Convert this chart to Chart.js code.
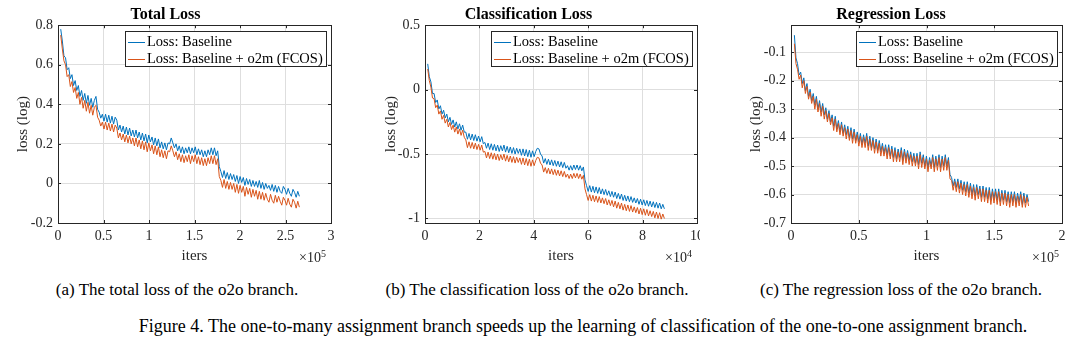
<!DOCTYPE html>
<html>
<head>
<meta charset="utf-8">
<script src="https://cdn.jsdelivr.net/npm/chart.js@4.4.1/dist/chart.umd.min.js"></script>
<style>
  body { margin: 0; background: #fff; width: 1080px; height: 349px; position: relative; overflow: hidden; font-family: 'Liberation Serif', serif; }
  canvas { position: absolute; top: 0; }
  .exp { position: absolute; top: 249px; font-size: 14px; color: #262626; line-height: 18px; }
  .exp sup { font-size: 10px; vertical-align: 5px; line-height: 0; }
  .sub { position: absolute; top: 280px; font-size: 17px; line-height: 20px; white-space: nowrap; transform: translateX(-50%); color: #000; }
  .fig { position: absolute; top: 316px; font-size: 18px; line-height: 20px; white-space: nowrap; transform: translateX(-50%); color: #000; }
</style>
</head>
<body>
<canvas id="totalChart" width="345" height="270" style="left:0px"></canvas>
<canvas id="clsChart" width="340" height="270" style="left:360px"></canvas>
<canvas id="regChart" width="360" height="270" style="left:720px"></canvas>

<div class="exp" style="left:299px">×10<sup>5</sup></div>
<div class="exp" style="left:665px">×10<sup>4</sup></div>
<div class="exp" style="left:1032px">×10<sup>5</sup></div>

<div class="sub" style="left:177px">(a) The total loss of the o2o branch.</div>
<div class="sub" style="left:537px">(b) The classification loss of the o2o branch.</div>
<div class="sub" style="left:901px">(c) The regression loss of the o2o branch.</div>
<div class="fig" style="left:583px">Figure 4. The one-to-many assignment branch speeds up the learning of classification of the one-to-one assignment branch.</div>

<script>
// legend labels
const seriesNames = ['Loss: Baseline', 'Loss: Baseline + o2m (FCOS)'];

// (a) total loss, x in units of 1e5 iters
const totalStart = 0.03, totalStep = 0.0176;
const totalBaseline = [
  0.78, 0.72, 0.645, 0.635, 0.575, 0.585, 0.53, 0.55, 0.495, 0.52,
  0.47, 0.495, 0.44, 0.47, 0.42, 0.455, 0.405, 0.445, 0.395, 0.43,
  0.385, 0.42, 0.44, 0.375, 0.36, 0.33, 0.35, 0.315, 0.35, 0.31,
  0.345, 0.305, 0.34, 0.3, 0.335, 0.32, 0.27, 0.295, 0.26, 0.29,
  0.25, 0.285, 0.245, 0.28, 0.24, 0.27, 0.235, 0.27, 0.23, 0.26,
  0.22, 0.255, 0.215, 0.25, 0.205, 0.245, 0.21, 0.235, 0.195, 0.23,
  0.19, 0.225, 0.18, 0.21, 0.175, 0.205, 0.17, 0.205, 0.2, 0.23,
  0.205, 0.18, 0.2, 0.165, 0.19, 0.155, 0.185, 0.15, 0.18, 0.155,
  0.185, 0.15, 0.18, 0.155, 0.185, 0.145, 0.175, 0.145, 0.17, 0.135,
  0.165, 0.135, 0.17, 0.145, 0.18, 0.145, 0.18, 0.14, 0.165, 0.085,
  0.06, 0.03, 0.065, 0.025, 0.055, 0.02, 0.05, 0.02, 0.045, 0.01,
  0.04, 0.0, 0.035, 0.005, 0.03, -0.01, 0.025, -0.005, 0.02, -0.015,
  0.015, -0.015, 0.01, -0.02, 0.015, -0.025, 0.005, -0.03, 0.0, -0.025,
  -0.01, -0.035, -0.005, -0.04, -0.01, -0.045, -0.015, -0.04, -0.05, -0.015,
  -0.03, -0.055, -0.025, -0.05, -0.065, -0.03, -0.045, -0.07, -0.04, -0.065
];
const totalO2m = [
  0.75, 0.68, 0.62, 0.6, 0.54, 0.55, 0.49, 0.515, 0.46, 0.485,
  0.43, 0.46, 0.4, 0.435, 0.38, 0.42, 0.365, 0.41, 0.355, 0.395,
  0.345, 0.385, 0.395, 0.335, 0.32, 0.29, 0.31, 0.275, 0.31, 0.27,
  0.305, 0.265, 0.3, 0.26, 0.295, 0.28, 0.23, 0.255, 0.22, 0.25,
  0.21, 0.245, 0.205, 0.24, 0.2, 0.23, 0.19, 0.23, 0.185, 0.22,
  0.175, 0.215, 0.17, 0.21, 0.16, 0.205, 0.165, 0.195, 0.15, 0.19,
  0.145, 0.185, 0.135, 0.17, 0.13, 0.165, 0.125, 0.165, 0.16, 0.19,
  0.165, 0.135, 0.16, 0.12, 0.15, 0.11, 0.145, 0.105, 0.14, 0.11,
  0.145, 0.1, 0.14, 0.11, 0.145, 0.1, 0.135, 0.095, 0.13, 0.09,
  0.125, 0.09, 0.13, 0.1, 0.14, 0.1, 0.14, 0.095, 0.125, 0.035,
  0.015, -0.02, 0.02, -0.025, 0.01, -0.03, 0.005, -0.03, 0.0, -0.045,
  -0.005, -0.05, -0.01, -0.045, -0.015, -0.065, -0.02, -0.055, -0.025, -0.07,
  -0.03, -0.065, -0.035, -0.08, -0.04, -0.08, -0.045, -0.085, -0.05, -0.08,
  -0.095, -0.055, -0.085, -0.1, -0.06, -0.095, -0.065, -0.09, -0.11, -0.07,
  -0.085, -0.11, -0.075, -0.105, -0.12, -0.08, -0.095, -0.125, -0.09, -0.12
];
const totalXTicks = [0, 0.5, 1, 1.5, 2, 2.5, 3];
const totalYTicks = [-0.2, 0, 0.2, 0.4, 0.6, 0.8];

// (b) classification loss, x in units of 1e4 iters
const clsStart = 0.1, clsStep = 0.0584;
const clsBaseline = [
  0.2, 0.1, 0.06, -0.03, -0.03, -0.1, -0.08, -0.15, -0.125, -0.19,
  -0.16, -0.22, -0.19, -0.25, -0.215, -0.27, -0.235, -0.29, -0.25, -0.305,
  -0.265, -0.315, -0.275, -0.33, -0.33, -0.385, -0.34, -0.39, -0.345, -0.395,
  -0.35, -0.4, -0.36, -0.405, -0.365, -0.42, -0.41, -0.455, -0.415, -0.465,
  -0.42, -0.47, -0.425, -0.475, -0.43, -0.48, -0.435, -0.475, -0.43, -0.485,
  -0.44, -0.49, -0.445, -0.495, -0.45, -0.5, -0.455, -0.495, -0.46, -0.51,
  -0.46, -0.515, -0.465, -0.52, -0.47, -0.525, -0.475, -0.52, -0.48, -0.455,
  -0.46, -0.5, -0.515, -0.57, -0.535, -0.58, -0.54, -0.585, -0.545, -0.59,
  -0.55, -0.595, -0.555, -0.6, -0.56, -0.605, -0.565, -0.61, -0.59, -0.625,
  -0.59, -0.625, -0.585, -0.62, -0.585, -0.625, -0.59, -0.63, -0.6, -0.7,
  -0.745, -0.79, -0.745, -0.795, -0.75, -0.8, -0.755, -0.805, -0.76, -0.81,
  -0.77, -0.815, -0.775, -0.82, -0.785, -0.83, -0.79, -0.835, -0.795, -0.845,
  -0.805, -0.85, -0.81, -0.86, -0.82, -0.865, -0.825, -0.87, -0.83, -0.875,
  -0.84, -0.88, -0.845, -0.89, -0.85, -0.895, -0.855, -0.9, -0.86, -0.905,
  -0.865, -0.91, -0.87, -0.915, -0.875, -0.92, -0.88, -0.925, -0.89, -0.925
];
const clsO2m = [
  0.16, 0.07, 0.02, -0.065, -0.07, -0.14, -0.12, -0.19, -0.165, -0.23,
  -0.2, -0.26, -0.23, -0.29, -0.255, -0.31, -0.275, -0.33, -0.29, -0.345,
  -0.305, -0.355, -0.315, -0.37, -0.39, -0.45, -0.405, -0.455, -0.41, -0.46,
  -0.415, -0.465, -0.425, -0.47, -0.43, -0.485, -0.48, -0.53, -0.485, -0.535,
  -0.49, -0.54, -0.495, -0.545, -0.5, -0.55, -0.505, -0.545, -0.5, -0.555,
  -0.51, -0.56, -0.515, -0.565, -0.52, -0.57, -0.525, -0.565, -0.53, -0.58,
  -0.53, -0.585, -0.535, -0.59, -0.54, -0.595, -0.545, -0.59, -0.55, -0.525,
  -0.53, -0.57, -0.585, -0.64, -0.605, -0.65, -0.61, -0.655, -0.615, -0.66,
  -0.62, -0.665, -0.625, -0.67, -0.63, -0.675, -0.635, -0.68, -0.655, -0.69,
  -0.655, -0.69, -0.65, -0.685, -0.65, -0.69, -0.655, -0.695, -0.665, -0.77,
  -0.815, -0.86, -0.815, -0.865, -0.82, -0.87, -0.825, -0.875, -0.83, -0.88,
  -0.84, -0.885, -0.845, -0.895, -0.855, -0.9, -0.86, -0.91, -0.865, -0.92,
  -0.875, -0.925, -0.88, -0.935, -0.89, -0.94, -0.895, -0.945, -0.9, -0.95,
  -0.91, -0.955, -0.915, -0.965, -0.92, -0.97, -0.925, -0.975, -0.93, -0.98,
  -0.94, -0.985, -0.945, -0.995, -0.95, -1.0, -0.955, -1.005, -0.965, -1.0
];
const clsXTicks = [0, 2, 4, 6, 8, 10];
const clsYTicks = [-1, -0.5, 0, 0.5];

// (c) regression loss, x in units of 1e5 iters
const regStart = 0.025, regStep = 0.0116;
const regBaseline = [
  -0.04, -0.12, -0.14, -0.18, -0.17, -0.21, -0.19, -0.235, -0.21, -0.255,
  -0.23, -0.27, -0.245, -0.285, -0.255, -0.3, -0.27, -0.31, -0.28, -0.32,
  -0.295, -0.335, -0.305, -0.345, -0.32, -0.36, -0.325, -0.37, -0.34, -0.38,
  -0.345, -0.385, -0.355, -0.39, -0.36, -0.4, -0.365, -0.405, -0.37, -0.41,
  -0.38, -0.415, -0.385, -0.425, -0.39, -0.42, -0.385, -0.43, -0.395, -0.435,
  -0.4, -0.44, -0.405, -0.445, -0.41, -0.45, -0.42, -0.455, -0.425, -0.46,
  -0.425, -0.465, -0.43, -0.47, -0.435, -0.475, -0.44, -0.47, -0.435, -0.48,
  -0.44, -0.475, -0.445, -0.48, -0.45, -0.485, -0.455, -0.49, -0.455, -0.495,
  -0.45, -0.49, -0.46, -0.5, -0.465, -0.505, -0.47, -0.5, -0.46, -0.505,
  -0.465, -0.5, -0.46, -0.505, -0.465, -0.5, -0.46, -0.5, -0.47, -0.53,
  -0.54, -0.57, -0.545, -0.575, -0.545, -0.58, -0.55, -0.585, -0.555, -0.59,
  -0.555, -0.595, -0.56, -0.6, -0.565, -0.605, -0.565, -0.6, -0.57, -0.61,
  -0.57, -0.61, -0.575, -0.615, -0.575, -0.62, -0.58, -0.615, -0.58, -0.62,
  -0.58, -0.625, -0.585, -0.62, -0.585, -0.625, -0.59, -0.63, -0.59, -0.625,
  -0.59, -0.63, -0.595, -0.625, -0.59, -0.635, -0.595, -0.63, -0.6, -0.625
];
const regO2m = [
  -0.07, -0.14, -0.16, -0.195, -0.18, -0.225, -0.2, -0.245, -0.22, -0.265,
  -0.24, -0.28, -0.255, -0.3, -0.265, -0.31, -0.28, -0.325, -0.29, -0.335,
  -0.305, -0.345, -0.315, -0.355, -0.33, -0.375, -0.335, -0.38, -0.35, -0.39,
  -0.355, -0.395, -0.365, -0.405, -0.37, -0.41, -0.375, -0.42, -0.38, -0.42,
  -0.39, -0.43, -0.395, -0.435, -0.4, -0.435, -0.395, -0.445, -0.405, -0.445,
  -0.41, -0.455, -0.415, -0.455, -0.42, -0.465, -0.43, -0.465, -0.435, -0.475,
  -0.435, -0.475, -0.44, -0.485, -0.445, -0.485, -0.45, -0.485, -0.445, -0.495,
  -0.45, -0.49, -0.455, -0.495, -0.46, -0.5, -0.465, -0.5, -0.465, -0.51,
  -0.46, -0.505, -0.47, -0.51, -0.475, -0.52, -0.48, -0.51, -0.47, -0.52,
  -0.475, -0.515, -0.47, -0.52, -0.475, -0.515, -0.47, -0.515, -0.48, -0.545,
  -0.55, -0.585, -0.555, -0.59, -0.555, -0.595, -0.56, -0.6, -0.565, -0.605,
  -0.565, -0.61, -0.57, -0.615, -0.575, -0.62, -0.575, -0.615, -0.58, -0.625,
  -0.58, -0.625, -0.585, -0.63, -0.585, -0.635, -0.59, -0.63, -0.59, -0.635,
  -0.59, -0.64, -0.595, -0.635, -0.595, -0.64, -0.6, -0.645, -0.6, -0.64,
  -0.6, -0.645, -0.605, -0.64, -0.6, -0.645, -0.605, -0.645, -0.61, -0.64
];
const regXTicks = [0, 0.5, 1, 1.5, 2];
const regYTicks = [-0.7, -0.6, -0.5, -0.4, -0.3, -0.2, -0.1];

const BLUE = '#0072BD';
const ORANGE = '#D95319';
const AXIS = '#262626';
const FONT = "'Liberation Serif', serif";

// box around the plot, inward ticks on all four sides, and the boxed legend
const matlabBox = {
  id: 'matlabBox',
  afterDraw(chart) {
    const ctx = chart.ctx;
    const a = chart.chartArea;
    const xs = chart.scales.x, ys = chart.scales.y;
    ctx.save();
    ctx.strokeStyle = AXIS;
    ctx.lineWidth = 1;
    ctx.strokeRect(Math.round(a.left) + 0.5, Math.round(a.top) + 0.5,
      Math.round(a.right - a.left), Math.round(a.bottom - a.top));
    ctx.beginPath();
    xs.ticks.forEach(t => {
      const px = Math.round(xs.getPixelForValue(t.value)) + 0.5;
      ctx.moveTo(px, a.bottom); ctx.lineTo(px, a.bottom - 3);
      ctx.moveTo(px, a.top); ctx.lineTo(px, a.top + 3);
    });
    ys.ticks.forEach(t => {
      const py = Math.round(ys.getPixelForValue(t.value)) + 0.5;
      ctx.moveTo(a.left, py); ctx.lineTo(a.left + 3, py);
      ctx.moveTo(a.right, py); ctx.lineTo(a.right - 3, py);
    });
    ctx.stroke();

    // legend
    const sets = chart.data.datasets;
    ctx.font = '14.5px ' + FONT;
    const textW = Math.max(...sets.map(d => ctx.measureText(d.label).width));
    const w = Math.round(textW + 25), h = 35;
    const right = Math.round(a.right) - 5, top = Math.round(a.top) + 6;
    const left = right - w;
    ctx.fillStyle = '#fff';
    ctx.fillRect(left, top, w, h);
    ctx.strokeStyle = AXIS;
    ctx.strokeRect(left + 0.5, top + 0.5, w, h);
    ctx.textBaseline = 'middle';
    ctx.textAlign = 'left';
    sets.forEach((d, i) => {
      const y = top + 11 + i * 17;
      ctx.strokeStyle = d.borderColor;
      ctx.beginPath();
      ctx.moveTo(left + 3, y + 0.5); ctx.lineTo(left + 20, y + 0.5);
      ctx.stroke();
      ctx.fillStyle = '#000';
      ctx.fillText(d.label, left + 22, y);
    });
    ctx.restore();
  }
};

function toPoints(start, step, values) {
  return values.map((v, i) => ({ x: start + step * i, y: v }));
}

function makeChart(id, cfg) {
  new Chart(document.getElementById(id), {
    type: 'line',
    data: {
      datasets: [
        { label: seriesNames[0], data: toPoints(cfg.start, cfg.step, cfg.base), borderColor: BLUE, order: 1 },
        { label: seriesNames[1], data: toPoints(cfg.start, cfg.step, cfg.o2m), borderColor: ORANGE, order: 0 }
      ]
    },
    options: {
      responsive: false,
      animation: false,
      events: [],
      datasets: { line: { borderWidth: 1, pointRadius: 0, tension: 0, fill: false } },
      layout: { padding: { left: 0, right: cfg.padRight, top: 0, bottom: 2 } },
      plugins: {
        legend: { display: false },
        tooltip: { enabled: false },
        title: {
          display: true, text: cfg.title, color: '#000',
          font: { family: FONT, size: 16, weight: 'bold' },
          padding: { top: 5, bottom: 1 }
        }
      },
      scales: {
        x: {
          type: 'linear', min: cfg.xMin, max: cfg.xMax,
          afterBuildTicks: s => { s.ticks = cfg.xTicks.map(v => ({ value: v })); },
          afterFit: s => { s.height = 45; s.paddingLeft = 0; s.paddingRight = 0; },
          grid: { color: '#dedede', drawTicks: false },
          border: { display: false },
          ticks: { color: AXIS, font: { family: FONT, size: 14 }, padding: 5, maxRotation: 0, autoSkip: false,
                   callback: v => String(v) },
          title: { display: true, text: 'iters', color: AXIS, font: { family: FONT, size: 15 }, padding: { top: 0, bottom: 3 } }
        },
        y: {
          type: 'linear', min: cfg.yMin, max: cfg.yMax,
          afterBuildTicks: s => { s.ticks = cfg.yTicks.map(v => ({ value: v })); },
          afterFit: s => { s.width = cfg.axisW; s.paddingTop = 0; s.paddingBottom = 0; },
          grid: { color: '#dedede', drawTicks: false },
          border: { display: false },
          ticks: { color: AXIS, font: { family: FONT, size: 14 }, padding: 5, autoSkip: false,
                   callback: v => String(v) },
          title: { display: true, text: 'loss (log)', color: AXIS, font: { family: FONT, size: 15 }, padding: { top: cfg.yTitlePad, bottom: 0 } }
        }
      }
    },
    plugins: [matlabBox]
  });
}

makeChart('totalChart', {
  title: 'Total Loss', start: totalStart, step: totalStep, base: totalBaseline, o2m: totalO2m,
  xMin: 0, xMax: 3, yMin: -0.2, yMax: 0.8, xTicks: totalXTicks, yTicks: totalYTicks,
  axisW: 58, padRight: 14, yTitlePad: 14
});
makeChart('clsChart', {
  title: 'Classification Loss', start: clsStart, step: clsStep, base: clsBaseline, o2m: clsO2m,
  xMin: 0, xMax: 10, yMin: -1.035, yMax: 0.5, xTicks: clsXTicks, yTicks: clsYTicks,
  axisW: 65, padRight: 3, yTitlePad: 22
});
makeChart('regChart', {
  title: 'Regression Loss', start: regStart, step: regStep, base: regBaseline, o2m: regO2m,
  xMin: 0, xMax: 2, yMin: -0.7, yMax: -0.005, xTicks: regXTicks, yTicks: regYTicks,
  axisW: 71, padRight: 18, yTitlePad: 27
});
</script>
</body>
</html>
